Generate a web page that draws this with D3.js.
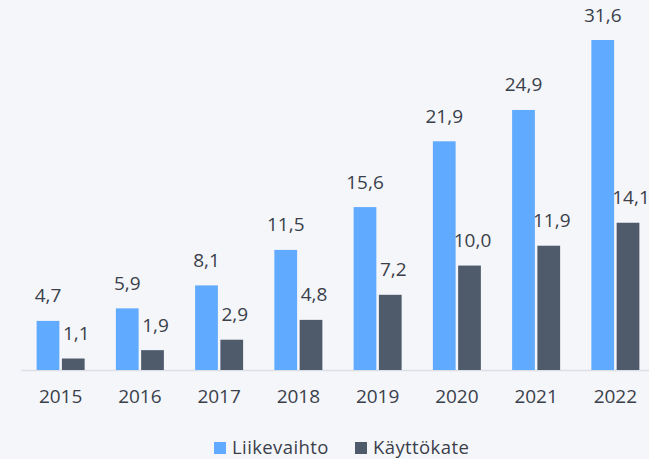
<!DOCTYPE html>
<html>
<head>
<meta charset="utf-8">
<script src="https://cdn.jsdelivr.net/npm/d3@7"></script>
<style>
  html, body { margin: 0; padding: 0; background: #f5f6fa; }
  svg { display: block; font-family: "Open Sans", sans-serif; }
</style>
</head>
<body>
<svg id="chart" width="649" height="459"></svg>
<script>
var years = ["2015", "2016", "2017", "2018", "2019", "2020", "2021", "2022"];
var liikevaihto = [4.7, 5.9, 8.1, 11.5, 15.6, 21.9, 24.9, 31.6];
var kayttokate = [1.1, 1.9, 2.9, 4.8, 7.2, 10.0, 11.9, 14.1];
var seriesNames = ["Liikevaihto", "Käyttökate"];
var colors = ["#60aaff", "#4f5a6b"];

var svg = d3.select("#chart");
var baseline = 370;
var textColor = "#3a3f4a";

var x = d3.scaleBand()
    .domain(years)
    .range([21, 655])
    .paddingInner(0)
    .paddingOuter(0);

var inner = d3.scaleBand()
    .domain([0, 1])
    .range([x.bandwidth()/2 - 24, x.bandwidth()/2 + 24])
    .paddingInner(0.1);

var y = d3.scaleLinear()
    .domain([0, 31.6])
    .range([baseline, 40]);

var fmt = function(v) { return d3.format(".1f")(v).replace(".", ","); };

// baseline
svg.append("line")
    .attr("x1", 21).attr("x2", 649)
    .attr("y1", baseline + 0.5).attr("y2", baseline + 0.5)
    .attr("stroke", "#dcdfe6")
    .attr("stroke-width", 1.5);

var data = [liikevaihto, kayttokate];

data.forEach(function(vals, s) {
    var g = svg.append("g");
    g.selectAll("rect")
        .data(vals)
        .enter().append("rect")
        .attr("x", function(d, i) { return x(years[i]) + inner(s); })
        .attr("width", inner.bandwidth())
        .attr("y", function(d) { return y(d); })
        .attr("height", function(d) { return baseline - y(d); })
        .attr("fill", colors[s]);

    g.selectAll("text")
        .data(vals)
        .enter().append("text")
        .attr("x", function(d, i) { return x(years[i]) + inner(s) + inner.bandwidth()/2 + (s == 1 ? 3 : 0); })
        .attr("y", function(d) { return y(d) - 18.5; })
        .attr("text-anchor", "middle")
        .attr("font-size", 19)
        .attr("fill", textColor)
        .text(function(d) { return fmt(d); });
});

// x axis labels
svg.append("g")
    .attr("transform", "translate(0," + baseline + ")")
    .call(d3.axisBottom(x).tickSize(0).tickPadding(20))
    .call(function(g) { g.select(".domain").remove(); })
    .selectAll("text")
    .attr("font-size", 19)
    .attr("font-family", "'Open Sans', sans-serif")
    .attr("fill", textColor);

// legend
var legendX = [214, 355];
seriesNames.forEach(function(name, i) {
    svg.append("rect")
        .attr("x", legendX[i]).attr("y", 442)
        .attr("width", 12).attr("height", 12)
        .attr("fill", colors[i]);
    svg.append("text")
        .attr("x", legendX[i] + 18).attr("y", 454)
        .attr("font-size", 18.5)
        .attr("letter-spacing", 0.4)
        .attr("fill", textColor)
        .text(name);
});
</script>
</body>
</html>
